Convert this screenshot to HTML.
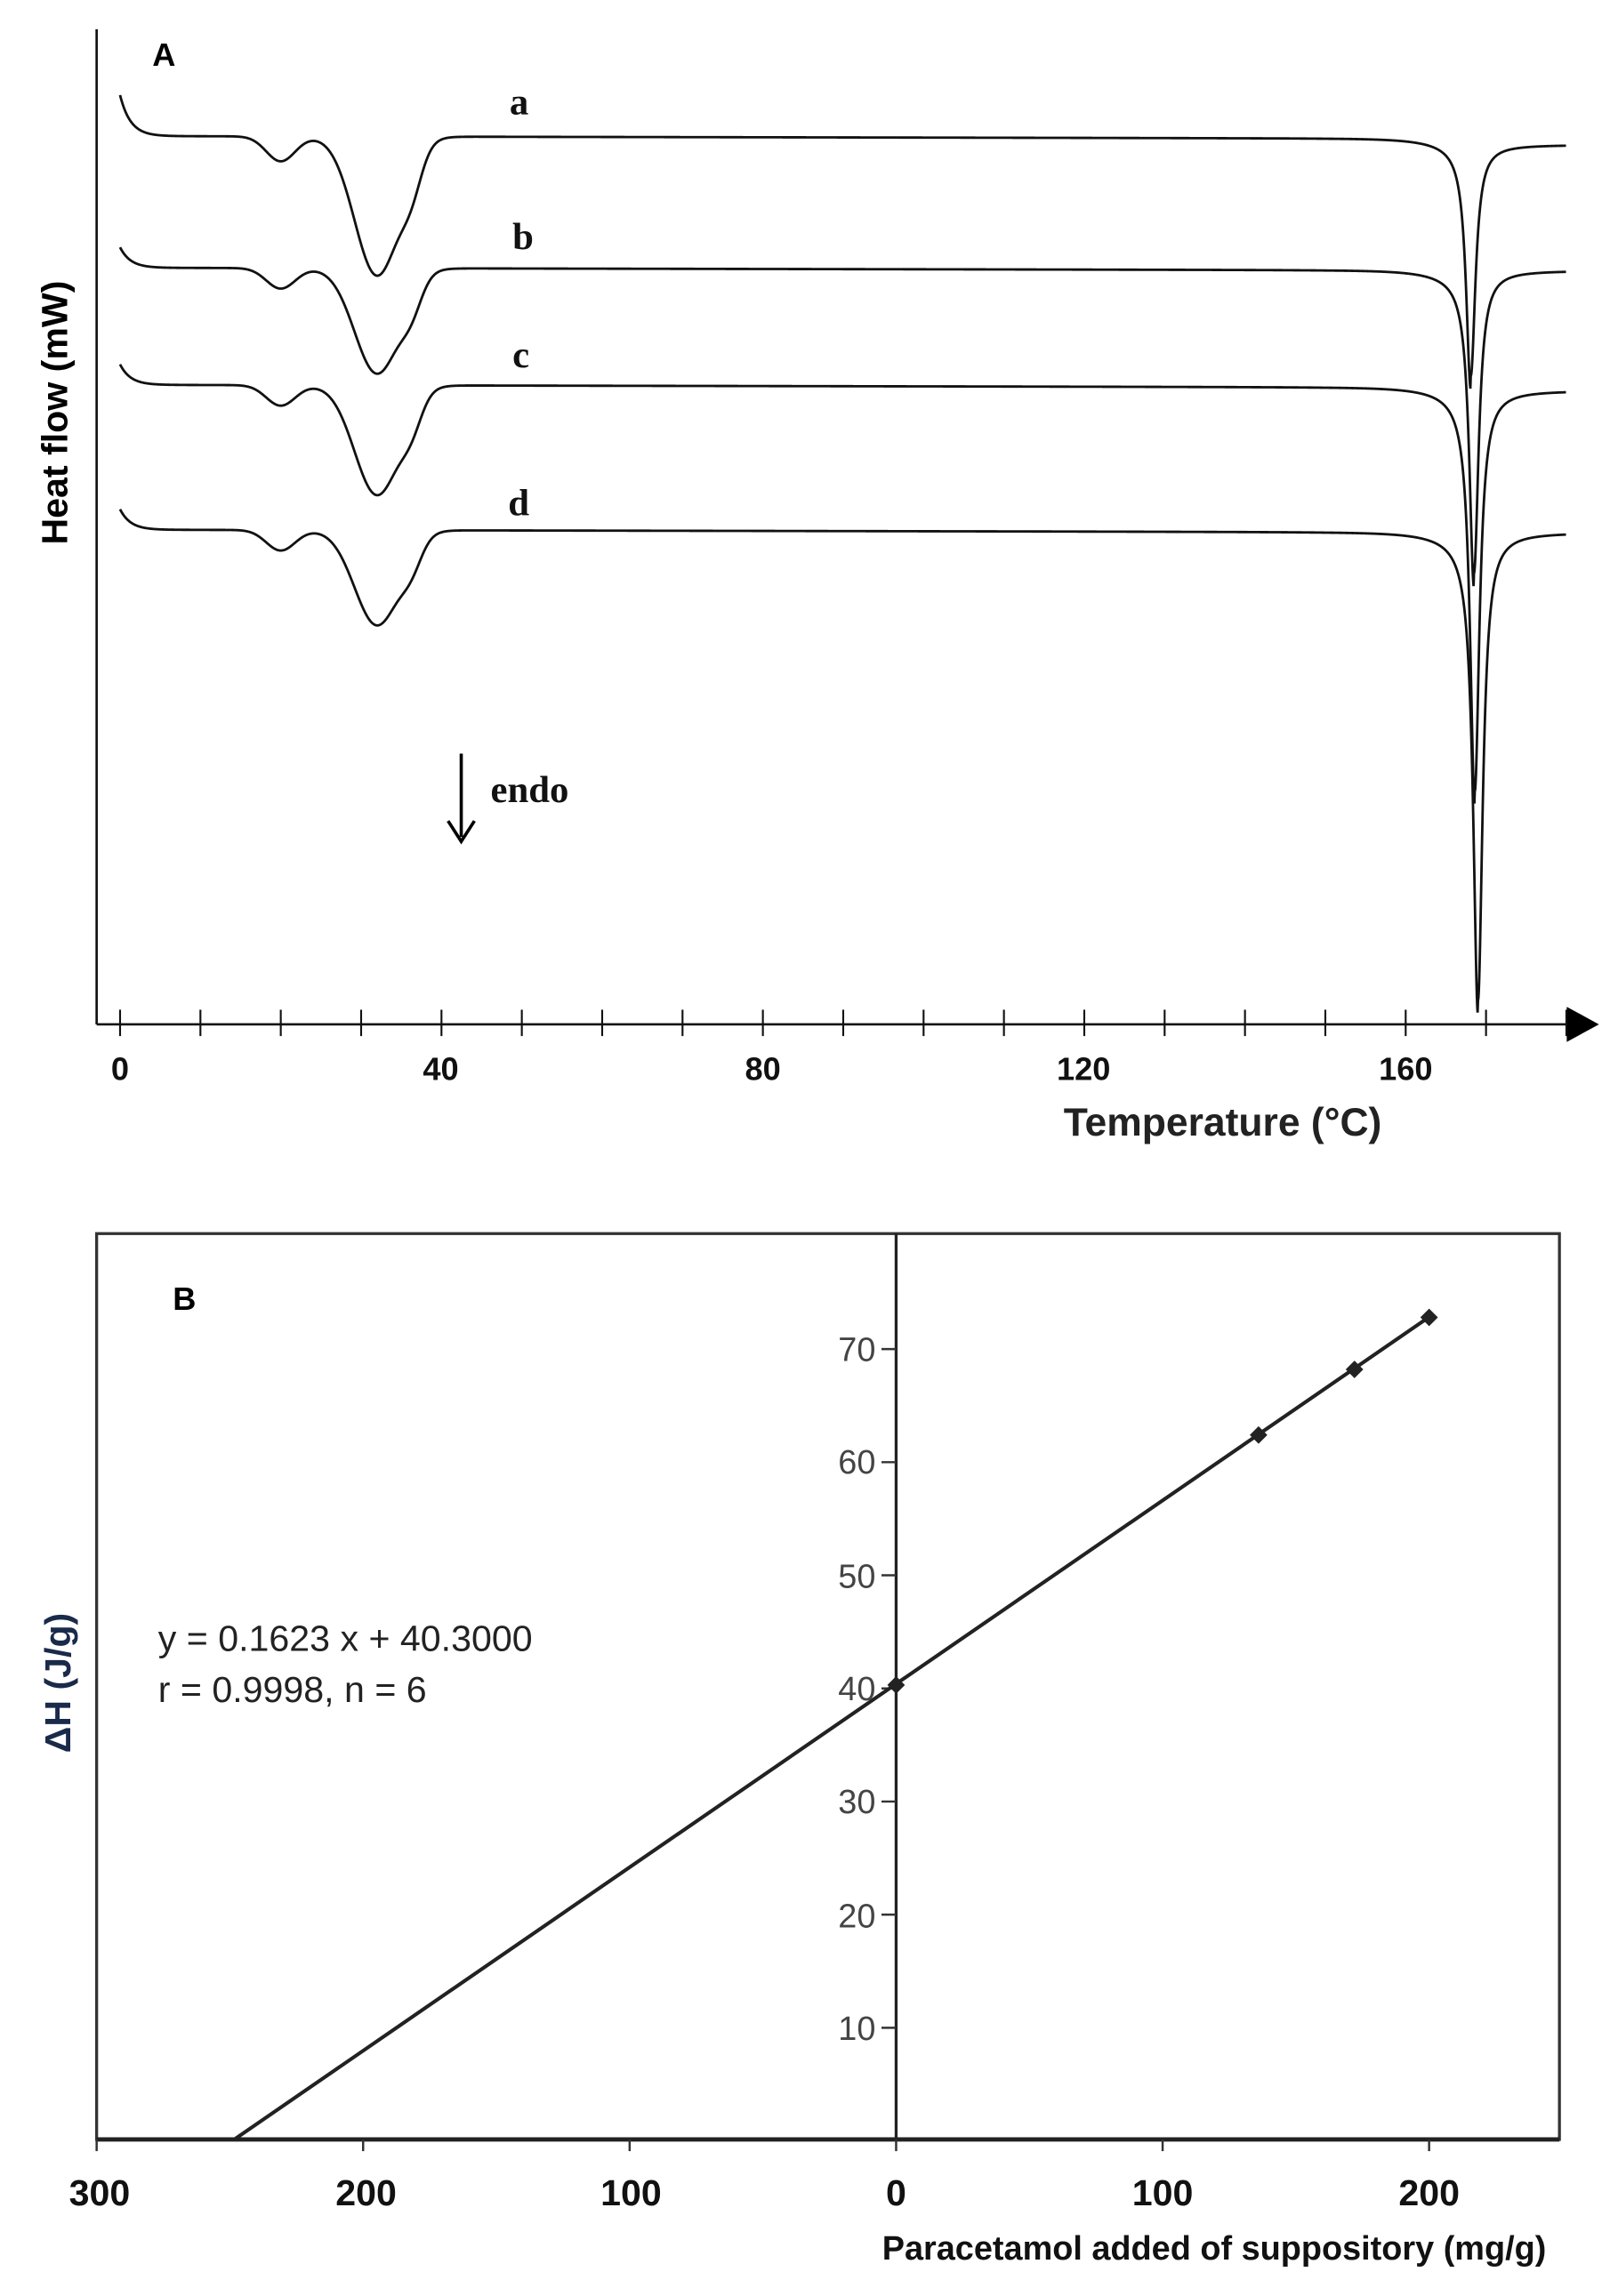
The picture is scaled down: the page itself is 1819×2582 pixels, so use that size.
<!DOCTYPE html>
<html><head><meta charset="utf-8"><style>html,body{margin:0;padding:0;background:#fff}svg{display:block}</style></head><body>
<svg id="s" width="1819" height="2582" viewBox="0 0 1105 1569" preserveAspectRatio="none" xmlns="http://www.w3.org/2000/svg">
<rect width="1105" height="1569" fill="#fff"/>
<g font-family="Liberation Sans, sans-serif">
<line x1="66" y1="20" x2="66" y2="700" stroke="#111" stroke-width="1.6"/>
<line x1="66" y1="700" x2="1075" y2="700" stroke="#111" stroke-width="1.6"/>
<polygon points="1070,688 1092,700 1070,712" fill="#000"/>
<g id="ticksA" stroke="#111" stroke-width="1.3"></g>
<g font-weight="bold" font-size="22" text-anchor="middle" fill="#111">
<text x="82" y="738">0</text><text x="301" y="738">40</text><text x="521" y="738">80</text><text x="740" y="738">120</text><text x="960" y="738">160</text>
</g>
<text x="835" y="776" font-size="27" font-weight="bold" text-anchor="middle" fill="#222" font-family="Liberation Sans Narrow, Liberation Sans, sans-serif">Temperature (°C)</text>
<text x="104" y="45" font-size="22" font-weight="bold">A</text>
<text transform="translate(46,282) rotate(-90)" font-size="25" font-weight="bold" text-anchor="middle">Heat flow (mW)</text>
<g font-family="Liberation Serif, serif" font-weight="bold" font-size="26" fill="#111">
<text x="348" y="78">a</text><text x="350" y="170">b</text><text x="350" y="251">c</text><text x="347" y="352">d</text>
<text x="335" y="548">endo</text>
</g>
<line x1="315" y1="515" x2="315" y2="572" stroke="#000" stroke-width="2.2"/>
<polyline points="306,561 315,575 324,561" fill="none" stroke="#000" stroke-width="2.2"/>
<g id="curves" fill="none" stroke="#111" stroke-width="1.7"></g>

<rect x="66" y="843" width="999" height="619" fill="none" stroke="#333" stroke-width="2"/>
<line x1="612" y1="843" x2="612" y2="1462" stroke="#222" stroke-width="2"/>
<line x1="66" y1="1462" x2="1065" y2="1462" stroke="#222" stroke-width="3"/>
<g id="ticksB" stroke="#333" stroke-width="1.5"></g>
<g font-size="23" fill="#444" text-anchor="end" font-family="Liberation Sans Narrow, Liberation Sans, sans-serif">
<text x="598" y="930">70</text><text x="598" y="1007">60</text><text x="598" y="1085">50</text><text x="598" y="1162">40</text><text x="598" y="1239">30</text><text x="598" y="1317">20</text><text x="598" y="1394">10</text>
</g>
<g font-weight="bold" font-size="25" text-anchor="middle" fill="#111">
<text x="68" y="1507">300</text><text x="250" y="1507">200</text><text x="431" y="1507">100</text><text x="612" y="1507">0</text><text x="794" y="1507">100</text><text x="976" y="1507">200</text>
</g>
<text x="1056" y="1544" font-size="23" font-weight="bold" text-anchor="end" fill="#111" font-family="Liberation Sans Narrow, Liberation Sans, sans-serif">Paracetamol added of suppository (mg/g)</text>
<text x="118" y="895" font-size="22" font-weight="bold">B</text>
<g font-size="25" fill="#222" font-family="Liberation Sans Narrow, Liberation Sans, sans-serif"><text x="108" y="1128">y = 0.1623 x + 40.3000</text><text x="108" y="1163">r = 0.9998, n = 6</text></g>
<text transform="translate(48,1150) rotate(-90)" font-size="25" font-weight="bold" fill="#1a2a4a" text-anchor="middle">ΔH (J/g)</text>
<line x1="160" y1="1462" x2="976" y2="900" stroke="#222" stroke-width="2.5"/>
<g id="pts" fill="#222"></g>
</g>
</svg>
<script>
var NS="http://www.w3.org/2000/svg";
function el(p,t,a){var e=document.createElementNS(NS,t);for(var k in a)e.setAttribute(k,a[k]);document.getElementById(p).appendChild(e);}
function xT(T){return 82+T*5.4875;}
for(var T=0;T<=180;T+=10){var x=xT(T);el("ticksA","line",{x1:x,y1:690,x2:x,y2:708});}
for(var i=0;i<6;i++){var x=66+i*182;el("ticksB","line",{x1:x,y1:1462,x2:x,y2:1470});}
for(var v=10;v<=70;v+=10){var y=1463-v*7.73;el("ticksB","line",{x1:602,y1:y,x2:612,y2:y});}
[[0,40.3],[136,62.4],[172,68.2],[200,72.8]].forEach(function(p){var x=612+p[0]*1.82,y=1463-p[1]*7.73;el("pts","polygon",{points:(x-6)+","+y+" "+x+","+(y-6)+" "+(x+6)+","+y+" "+x+","+(y+6)});});
function g(T,c,s){return Math.exp(-(T-c)*(T-c)/(2*s*s));}
var C=[
 {b:93,e:99,s:-28,d1:17,d2:95,sh:20,pc:168.1,pd:160},
 {b:183,e:185,s:-14,d1:14,d2:72,sh:16,pc:168.5,pd:207},
 {b:263,e:267,s:-14,d1:14,d2:75,sh:16,pc:168.6,pd:275},
 {b:362,e:364,s:-14,d1:14,d2:65,sh:14,pc:169,pd:320}];
C.forEach(function(c){var d="";
 for(var T=0;T<=180;T+=0.05){
  var base=c.b+Math.min(T,150)/150*1.5;
  var step=1/(1+Math.exp(-(T-c.pc)*4));
  base=base*(1-step)+c.e*step;
  var y=base+c.s*Math.exp(-T/1.3)+c.d1*g(T,20,1.8)+c.d2*g(T,32,2.8)+c.sh*g(T,36.3,1.3);
  var u=(T-c.pc)/0.7;y+=c.pd/(1+u*u);
  if(T<c.pc)y+=10*Math.exp((T-c.pc)/3.5);
  d+=(T==0?"M":"L")+xT(T).toFixed(2)+","+y.toFixed(2);}
 el("curves","path",{d:d});});
</script>
</body></html>
